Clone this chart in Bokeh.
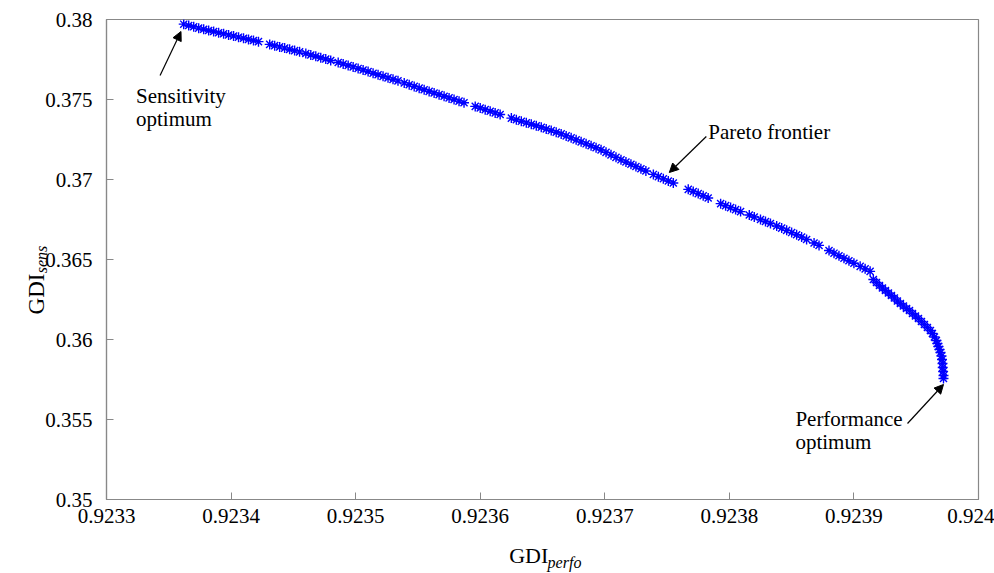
from bokeh.plotting import figure
from bokeh.models import Range1d, FixedTicker, Label, Arrow, NormalHead, ColumnDataSource, LinearAxis
from bokeh.embed import file_html
from bokeh.resources import INLINE

# Pareto frontier points
gdi_perfo = [
    0.923362, 0.923366, 0.923370, 0.923374, 0.923378, 0.923382, 0.923386, 0.923390, 0.923394, 0.923398, 0.923402, 0.923406,
    0.923410, 0.923414, 0.923418, 0.923422,
    0.923431, 0.923435, 0.923439, 0.923443, 0.923447, 0.923451, 0.923455,
    0.923460, 0.923464, 0.923468, 0.923472, 0.923476, 0.923480,
    0.923486, 0.923490, 0.923494, 0.923498, 0.923502, 0.923506, 0.923510, 0.923514, 0.923518, 0.923522, 0.923526, 0.923530, 0.923534,
    0.923539, 0.923543, 0.923547, 0.923551, 0.923555, 0.923559, 0.923563, 0.923567, 0.923571, 0.923575, 0.923579, 0.923583, 0.923587,
    0.923596, 0.923600, 0.923604, 0.923608, 0.923612, 0.923616,
    0.923625, 0.923629, 0.923633, 0.923637, 0.923641, 0.923645, 0.923649, 0.923653, 0.923657, 0.923661, 0.923665, 0.923669, 0.923673,
    0.923677, 0.923681, 0.923685, 0.923689, 0.923693, 0.923697, 0.923701, 0.923705, 0.923709, 0.923713, 0.923717, 0.923721, 0.923725,
    0.923729, 0.923733,
    0.923739, 0.923743, 0.923747, 0.923751, 0.923755,
    0.923767, 0.923771, 0.923775, 0.923779, 0.923783,
    0.923793, 0.923797, 0.923801, 0.923805, 0.923809,
    0.923816, 0.923820,
    0.923825, 0.923829, 0.923833,
    0.923838, 0.923842, 0.923846, 0.923850, 0.923854, 0.923858, 0.923862,
    0.923868, 0.923872,
    0.923880, 0.923884, 0.923888, 0.923892, 0.923896, 0.923900,
    0.923905, 0.923909, 0.923913,
    0.9239156, 0.9239181, 0.9239205, 0.9239229, 0.9239253, 0.9239277, 0.9239301, 0.9239325, 0.9239349, 0.9239373,
    0.9239397, 0.9239422, 0.9239446, 0.9239470, 0.9239494, 0.9239518, 0.9239542, 0.9239566, 0.9239590, 0.9239614,
    0.9239630, 0.9239646, 0.9239662, 0.9239670, 0.9239678, 0.9239687, 0.9239695, 0.9239703, 0.9239707, 0.9239711,
    0.9239713, 0.9239716, 0.9239719, 0.9239719,
]
gdi_sens = [
    0.379709, 0.379626, 0.379543, 0.379460, 0.379387, 0.379317, 0.379247, 0.379177, 0.379107, 0.379036, 0.378966, 0.378896,
    0.378826, 0.378756, 0.378686, 0.378616,
    0.378445, 0.378367, 0.378289, 0.378211, 0.378133, 0.378055, 0.377977,
    0.377871, 0.377785, 0.377699, 0.377614, 0.377528, 0.377442,
    0.377313, 0.377223, 0.377130, 0.377036, 0.376943, 0.376846, 0.376745, 0.376644, 0.376543, 0.376446, 0.376353, 0.376259, 0.376165,
    0.376036, 0.375927, 0.375819, 0.375710, 0.375607, 0.375506, 0.375405, 0.375303, 0.375202, 0.375101, 0.374999, 0.374897, 0.374797,
    0.374570, 0.374469, 0.374367, 0.374266, 0.374164, 0.374063,
    0.373836, 0.373735, 0.373635, 0.373542, 0.373449, 0.373355, 0.373261, 0.373159, 0.373057, 0.372956, 0.372850, 0.372726, 0.372602,
    0.372478, 0.372353, 0.372229, 0.372105, 0.371981, 0.371852, 0.371696, 0.371540, 0.371384, 0.371229, 0.371089, 0.370950, 0.370810,
    0.370670, 0.370530,
    0.370318, 0.370178, 0.370042, 0.369910, 0.369778,
    0.369383, 0.369251, 0.369119, 0.368982, 0.368841,
    0.368491, 0.368367, 0.368243, 0.368119, 0.367994,
    0.367777, 0.367653,
    0.367497, 0.367373, 0.367249,
    0.367094, 0.366962, 0.366822, 0.366682, 0.366543, 0.366401, 0.366252,
    0.366030, 0.365881,
    0.365559, 0.365396, 0.365233, 0.365075, 0.364920, 0.364765,
    0.364571, 0.364415, 0.364258,
    0.363750, 0.363562, 0.363375, 0.363219, 0.363062, 0.362906, 0.362750, 0.362594, 0.362406, 0.362250,
    0.362094, 0.361937, 0.361812, 0.361625, 0.361469, 0.361312, 0.361125, 0.360937, 0.360750, 0.360562,
    0.360375, 0.360156, 0.359937, 0.359750, 0.359562, 0.359375, 0.359187, 0.358969, 0.358750, 0.358500,
    0.358250, 0.358000, 0.357750, 0.357562,
]

x_ticks = [0.9233, 0.9234, 0.9235, 0.9236, 0.9237, 0.9238, 0.9239, 0.924]
x_tick_labels = ["0.9233", "0.9234", "0.9235", "0.9236", "0.9237", "0.9238", "0.9239", "0.924"]
y_ticks = [0.35, 0.355, 0.36, 0.365, 0.37, 0.375, 0.38]
y_tick_labels = ["0.35", "0.355", "0.36", "0.365", "0.37", "0.375", "0.38"]

FONT = "Liberation Serif"
GRAY = "#888888"
NB = "\u00a0"

p = figure(width=994, height=573, output_backend="svg", toolbar_location=None,
           x_range=Range1d(0.9233, 0.924), y_range=Range1d(0.35, 0.38),
           min_border_left=106, min_border_right=16, min_border_top=19, min_border_bottom=74)
p.background_fill_color = "white"
p.border_fill_color = "white"
p.outline_line_color = GRAY
p.outline_line_width = 1.2
p.grid.visible = False

for ax, ticks, labels in ((p.xaxis[0], x_ticks, x_tick_labels), (p.yaxis[0], y_ticks, y_tick_labels)):
    ax.ticker = FixedTicker(ticks=ticks)
    ax.major_label_overrides = {t: l for t, l in zip(ticks, labels)}
    ax.axis_line_color = GRAY
    ax.axis_line_width = 1.2
    ax.major_tick_line_color = GRAY
    ax.major_tick_in = 7
    ax.major_tick_out = 0
    ax.minor_tick_line_color = None
    ax.major_label_text_font = FONT
    ax.major_label_text_font_size = "21px"
    ax.major_label_text_color = "black"
    ax.axis_label_text_font = FONT
    ax.axis_label_text_color = "black"
p.xaxis.major_label_standoff = 9
p.yaxis.major_label_standoff = 14

# x title: "GDI" on the main axis, subscript "perfo" on an extra (bare) axis
p.xaxis.axis_label = "GDI" + NB * 5
p.xaxis.axis_label_text_font_size = "22px"
p.xaxis.axis_label_text_font_style = "normal"
p.xaxis.axis_label_standoff = 17

# y title: subscript "sens" on the main axis, "GDI" on an extra (bare) axis
p.yaxis.axis_label = "sens"
p.yaxis.axis_label_text_font_size = "16px"
p.yaxis.axis_label_text_font_style = "italic"
p.yaxis.axis_label_standoff = -8


def bare_axis(label, size, style, standoff):
    ax = LinearAxis(ticker=FixedTicker(ticks=[]), axis_line_color=None, major_tick_line_color=None,
                    minor_tick_line_color=None, major_label_text_font_size="0px", major_label_standoff=0,
                    axis_label=label, axis_label_text_font=FONT, axis_label_text_font_size=size,
                    axis_label_text_font_style=style, axis_label_text_color="black",
                    axis_label_standoff=standoff)
    return ax


p.add_layout(bare_axis(NB * 11 + "perfo", "16px", "italic", -17), "below")
p.add_layout(bare_axis("GDI" + NB * 12, "23px", "normal", -18), "left")

src = ColumnDataSource(dict(x=gdi_perfo, y=gdi_sens))
p.scatter("x", "y", source=src, marker="asterisk", size=10, line_color="#0000ff", line_width=1.4)


def txt(x, y, s, size="21px"):
    p.add_layout(Label(x=x, y=y, text=s, text_font=FONT, text_font_size=size,
                       text_color="black", text_baseline="alphabetic", text_align="left"))


txt(0.9233237, 0.375206, "Sensitivity")
txt(0.9233237, 0.373794, "optimum")
txt(0.9237831, 0.373000, "Pareto frontier")
txt(0.923853, 0.355044, "Performance")
txt(0.923853, 0.353625, "optimum")

for (x0, y0, x1, y1) in ((0.923343, 0.3765, 0.9233598, 0.37925),
                         (0.9237815, 0.372688, 0.9237518, 0.370438),
                         (0.923943, 0.35475, 0.9239719, 0.357188)):
    p.add_layout(Arrow(x_start=x0, y_start=y0, x_end=x1, y_end=y1, line_color="black", line_width=1.2,
                       end=NormalHead(size=9, fill_color="black", line_color="black", line_width=1)))

open("out.html", "w").write(file_html(p, INLINE))
